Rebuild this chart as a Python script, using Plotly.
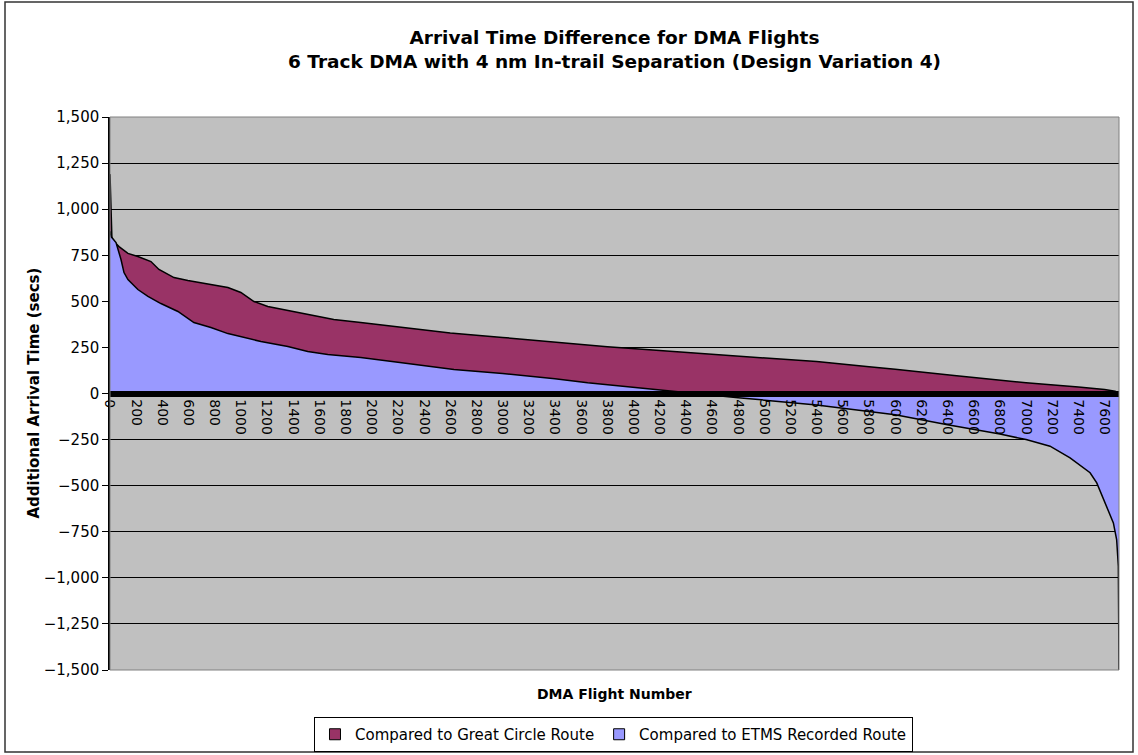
import plotly.graph_objects as go

# Compared to Great Circle Route (flight number, additional seconds)
gc_flight = [0, 15, 69, 137, 213, 313, 374, 489, 595, 771, 901, 1000, 1100, 1206, 1359, 1511,
             1710, 1916, 2200, 2600, 3000, 3400, 3800, 4200, 4600, 5000, 5400, 5800, 6000,
             6450, 7000, 7400, 7600, 7680, 7710]
gc_values = [1190, 835, 797, 760, 743, 716, 673, 629, 613, 591, 575, 548, 499, 472, 450, 429,
             401, 385, 360, 328, 304, 278, 254, 233, 213, 192, 173, 145, 132,
             97, 58, 35, 22, 12, 3]

# Compared to ETMS Recorded Route
et_flight = [0, 10, 46, 84, 107, 137, 213, 290, 389, 519, 641, 771, 901, 1000, 1153, 1359,
             1511, 1664, 1916, 2200, 2628, 3000, 3400, 3650, 4000, 4300, 4500, 4800, 5400,
             6000, 6400, 6800, 7000, 7183, 7336, 7489, 7540, 7603, 7667, 7692, 7705, 7710]
et_values = [880, 850, 819, 727, 656, 618, 564, 527, 488, 445, 385, 358, 325, 309, 282, 255,
             228, 212, 195, 170, 130, 108, 80, 58, 33, 12, 0, -23, -62,
             -115, -170, -220, -250, -286, -349, -430, -485, -593, -702, -792, -937, -1500]

series_names = ["Compared to Great Circle Route", "Compared to ETMS Recorded Route"]
series_colors = ["#993366", "#9999FF"]

x_ticks = list(range(0, 7601, 200))
y_ticks = list(range(-1500, 1501, 250))

FONT = "DejaVu Sans"

fig = go.Figure()
for xs, ys, nm, col in [(gc_flight, gc_values, series_names[0], series_colors[0]),
                        (et_flight, et_values, series_names[1], series_colors[1])]:
    fig.add_trace(go.Scatter(x=xs, y=ys, mode="lines", fill="tozeroy",
                             fillcolor=col, line=dict(color="black", width=1.5),
                             name=nm, showlegend=False))
# legend entries with square swatches
for nm, col in zip(series_names, series_colors):
    fig.add_trace(go.Scatter(x=[None], y=[None], mode="markers", name=nm,
                             marker=dict(symbol="square", size=11, color=col,
                                         line=dict(color="black", width=1))))

L, R, T, B = 110, 19, 117, 85
W, H = 1138, 755
pw, ph = W - L - R, H - T - B

def px(xp):
    return (xp - L) / pw

def py(yp):
    return (H - B - yp) / ph

fig.update_layout(
    width=W, height=H,
    margin=dict(l=L, r=R, t=T, b=B, autoexpand=False),
    paper_bgcolor="white",
    plot_bgcolor="#C0C0C0",
    font=dict(family=FONT, color="black", size=15),
    title=dict(text="<b>Arrival Time Difference for DMA Flights<br>6 Track DMA with 4 nm In-trail Separation (Design Variation 4)</b>",
               x=0.5, xref="paper", xanchor="center",
               y=1 - 44 / H, yref="container", yanchor="top",
               font=dict(family=FONT, size=18.5, color="black")),
    showlegend=True,
    legend=dict(orientation="h", x=0.499, xanchor="center",
                y=(H - 717) / H, yref="container", yanchor="top",
                bgcolor="white", bordercolor="black", borderwidth=1,
                itemwidth=30,
                font=dict(family=FONT, size=15), traceorder="normal"),
    xaxis=dict(range=[0, 7710], tickvals=x_ticks, ticktext=[str(v) for v in x_ticks],
               tickangle=90, tickfont=dict(family=FONT, size=14),
               showgrid=False, zeroline=False, showline=True, linecolor="black", linewidth=6,
               anchor="free", position=0.5, ticks=""),
    yaxis=dict(range=[-1500, 1500], tickvals=y_ticks, tickformat=",",
               showgrid=True, gridcolor="black", gridwidth=1, zeroline=False,
               showline=True, linecolor="black", linewidth=1.5,
               ticks="outside", ticklen=6, tickcolor="black",
               tickfont=dict(family=FONT, size=15), domain=[0, 1]),
)

# plot area border (gray) and outer chart border
fig.add_shape(type="rect", xref="paper", yref="paper", x0=0, x1=1, y0=0, y1=1,
              line=dict(color="#808080", width=1), layer="above")
fig.add_shape(type="rect", xref="paper", yref="paper",
              x0=px(5), x1=px(1133), y0=py(752), y1=py(2),
              line=dict(color="#333333", width=1.5), layer="above")

fig.add_annotation(text="<b>DMA Flight Number</b>", xref="paper", yref="paper",
                   x=0.5, y=py(694), xanchor="center", yanchor="middle", showarrow=False,
                   font=dict(family=FONT, size=14))
fig.add_annotation(text="<b>Additional Arrival Time (secs)</b>", xref="paper", yref="paper",
                   x=px(33), y=0.5, xanchor="center", yanchor="middle", showarrow=False,
                   textangle=-90, font=dict(family=FONT, size=15))

fig.write_html("out.html", config={"displayModeBar": False},
               post_script="document.body.style.margin='0px';")
